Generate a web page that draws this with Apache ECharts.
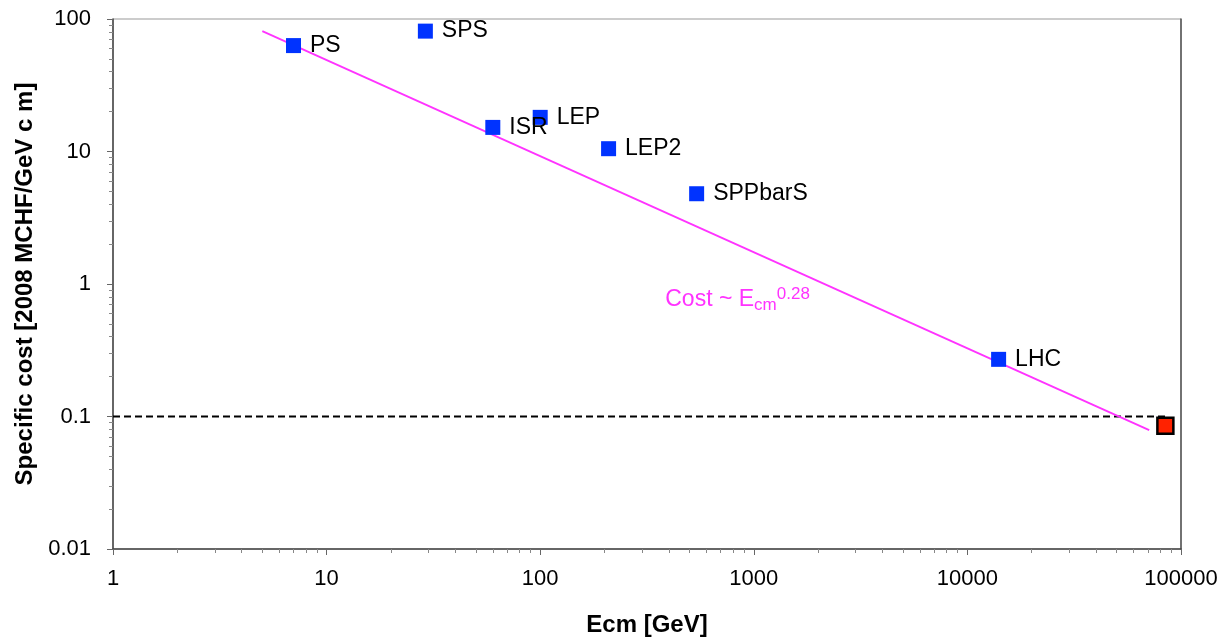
<!DOCTYPE html>
<html>
<head>
<meta charset="utf-8">
<script src="https://cdn.jsdelivr.net/npm/echarts@6/dist/echarts.min.js"></script>
<style>
html,body{margin:0;padding:0;background:#fff;}
#c{width:1224px;height:637px;}
</style>
</head>
<body>
<div id="c"></div>
<script>
// ---- data ----
const machineNames = ['PS', 'SPS', 'ISR', 'LEP', 'LEP2', 'SPPbarS', 'LHC'];
const machineEnergy = [7, 29, 60, 100, 209, 540, 14000];
const machineCost = [63, 81, 15.2, 18.1, 10.5, 4.8, 0.27];
const futureEnergy = [84500];
const futureCost = [0.085];
const fitEnergy = [5, 71000];
const fitCost = [81, 0.079];
const thresholdCost = 0.1;
const xMinorTicks = [2,3,4,5,6,7,8,9,20,30,40,50,60,70,80,90,200,300,400,500,600,700,800,900,2000,3000,4000,5000,6000,7000,8000,9000,20000,30000,40000,50000,60000,70000,80000,90000];
const yMinorTicks = [0.02,0.03,0.04,0.05,0.06,0.07,0.08,0.09,0.2,0.3,0.4,0.5,0.6,0.7,0.8,0.9,2,3,4,5,6,7,8,9,20,30,40,50,60,70,80,90];
const annotation = {x: 385, y: 0.76};

const FONT = '"Liberation Sans", Arial, sans-serif';
const chart = echarts.init(document.getElementById('c'), null, {renderer: 'canvas'});

const machineData = machineEnergy.map((e, i) => ({value: [e, machineCost[i]], name: machineNames[i]}));
const futureData = futureEnergy.map((e, i) => [e, futureCost[i]]);
const fitData = fitEnergy.map((e, i) => [e, fitCost[i]]);
const xMin = 1, xMax = 100000, yMin = 0.01, yMax = 100;

const option = {
  backgroundColor: '#fff',
  animation: false,
  grid: {left: 113, right: 43, top: 19, bottom: 88, show: true, borderColor: '#999', borderWidth: 1,
    containLabel: false, outerBoundsMode: 'none'},
  xAxis: [{
    type: 'log', logBase: 10, min: xMin, max: xMax, position: 'bottom',
    name: 'Ecm [GeV]', nameLocation: 'middle', nameGap: 64,
    nameTextStyle: {fontFamily: FONT, fontSize: 24, fontWeight: 'bold', color: '#000'},
    axisLine: {show: true, lineStyle: {color: '#444', width: 1.5}},
    axisTick: {show: true, inside: false, length: 6, lineStyle: {color: '#666', width: 1}},
    axisLabel: {fontFamily: FONT, fontSize: 22, color: '#000', margin: 19, formatter: v => String(v)},
    splitLine: {show: false}, minorTick: {show: false}
  }, {
    type: 'log', logBase: 10, min: xMin, max: xMax, position: 'bottom',
    axisLine: {show: false},
    axisTick: {show: true, inside: false, length: 4, customValues: xMinorTicks, lineStyle: {color: '#888', width: 1}},
    axisLabel: {show: false},
    splitLine: {show: false}
  }],
  yAxis: [{
    type: 'log', logBase: 10, min: yMin, max: yMax, position: 'left',
    name: 'Specific cost [2008 MCHF/GeV c m]', nameLocation: 'middle', nameGap: 67, nameRotate: 90,
    nameTextStyle: {fontFamily: FONT, fontSize: 24, fontWeight: 'bold', color: '#000'},
    axisLine: {show: true, lineStyle: {color: '#444', width: 1.5}},
    axisTick: {show: true, inside: false, length: 6, lineStyle: {color: '#666', width: 1}},
    axisLabel: {fontFamily: FONT, fontSize: 22, color: '#000', margin: 22, formatter: v => String(v)},
    splitLine: {show: false}
  }, {
    type: 'log', logBase: 10, min: yMin, max: yMax, position: 'left',
    axisLine: {show: false},
    axisTick: {show: true, inside: false, length: 4, customValues: yMinorTicks, lineStyle: {color: '#888', width: 1}},
    axisLabel: {show: false},
    splitLine: {show: false}
  }, {
    type: 'log', logBase: 10, min: yMin, max: yMax, position: 'right',
    axisLine: {show: true, lineStyle: {color: '#555', width: 1.5}},
    axisTick: {show: false}, axisLabel: {show: false}, splitLine: {show: false}
  }],
  series: [{
    name: 'threshold', type: 'line', xAxisIndex: 0, yAxisIndex: 0,
    data: [[xMin, thresholdCost], [futureEnergy[0], thresholdCost]],
    symbol: 'none', silent: true,
    lineStyle: {color: '#000', width: 2, type: [7, 4]}, z: 2
  }, {
    name: 'fit', type: 'line', xAxisIndex: 0, yAxisIndex: 0,
    data: fitData, symbol: 'none', silent: true,
    lineStyle: {color: '#FF33FF', width: 1.8}, z: 3,
    markPoint: {
      symbol: 'circle', symbolSize: 0, silent: true,
      data: [{coord: [annotation.x, annotation.y]}],
      label: {
        show: true, position: 'right', distance: 0,
        formatter: '{a|Cost ~ E}{b|cm}{c|0.28}',
        rich: {
          a: {fontFamily: FONT, fontSize: 23, color: '#FF33FF', lineHeight: 28, verticalAlign: 'middle'},
          b: {fontFamily: FONT, fontSize: 17, color: '#FF33FF', lineHeight: 28, verticalAlign: 'bottom'},
          c: {fontFamily: FONT, fontSize: 17, color: '#FF33FF', lineHeight: 28, verticalAlign: 'top'}
        }
      }
    }
  }, {
    name: 'machines', type: 'scatter', xAxisIndex: 0, yAxisIndex: 0,
    data: machineData, symbol: 'rect', symbolSize: 15,
    itemStyle: {color: '#0033FF', opacity: 1}, z: 5,
    label: {show: true, position: 'right', distance: 9, formatter: p => p.name,
      fontFamily: FONT, fontSize: 23, color: '#000'}
  }, {
    name: 'future', type: 'scatter', xAxisIndex: 0, yAxisIndex: 0,
    data: futureData, symbol: 'rect', symbolSize: 16,
    itemStyle: {color: '#FF2200', borderColor: '#000', borderWidth: 2.5, opacity: 1}, z: 6
  }]
};
chart.setOption(option);
</script>
</body>
</html>
